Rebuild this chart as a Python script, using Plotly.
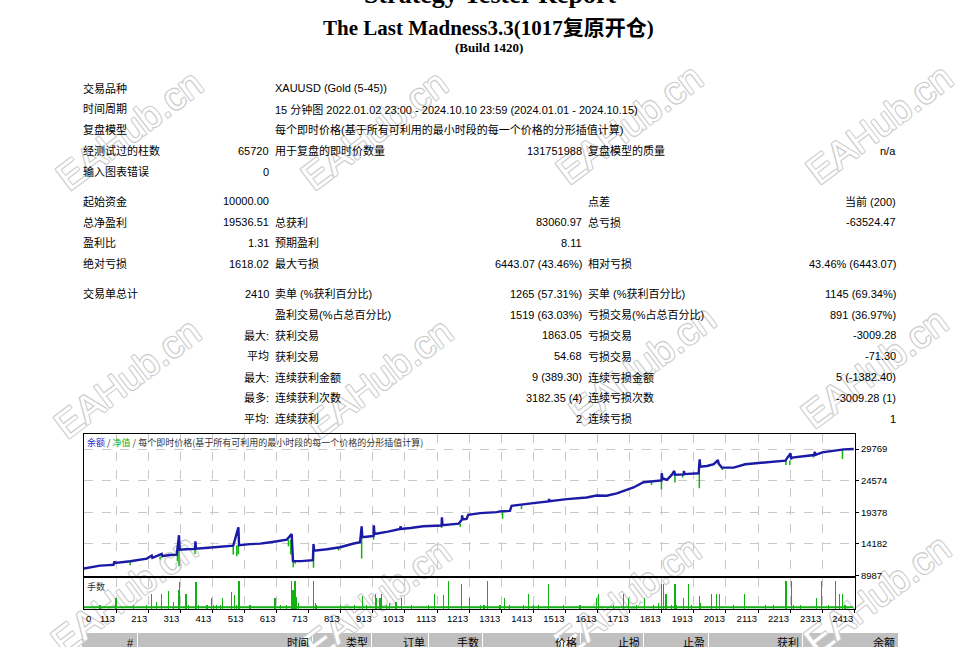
import plotly.graph_objects as go

W, H = 968, 647

TITLE = "Strategy Tester Report"
EA_NAME = "The Last Madness3.3(1017复原开仓)"
BUILD = "(Build 1420)"

col1 = ["交易品种", "时间周期", "复盘模型", "经测试过的柱数", "输入图表错误",
        "起始资金", "总净盈利", "盈利比", "绝对亏损", "交易单总计",
        "", "", "", "", "", ""]
col2 = ["", "", "", "65720", "0",
        "10000.00", "19536.51", "1.31", "1618.02", "2410",
        "", "最大:", "平均", "最大:", "最多:", "平均:"]
col3 = ["XAUUSD (Gold (5-45))",
        "15 分钟图 2022.01.02 23:00 - 2024.10.10 23:59 (2024.01.01 - 2024.10.15)",
        "每个即时价格(基于所有可利用的最小时段的每一个价格的分形插值计算)",
        "用于复盘的即时价数量", "",
        "", "总获利", "预期盈利", "最大亏损", "卖单 (%获利百分比)",
        "盈利交易(%占总百分比)", "获利交易", "获利交易", "连续获利金额", "连续获利次数", "连续获利"]
col4 = ["", "", "", "131751988", "",
        "", "83060.97", "8.11", "6443.07 (43.46%)", "1265 (57.31%)",
        "1519 (63.03%)", "1863.05", "54.68", "9 (389.30)", "3182.35 (4)", "2"]
col5 = ["", "", "", "复盘模型的质量", "",
        "点差", "总亏损", "", "相对亏损", "买单 (%获利百分比)",
        "亏损交易(%占总百分比)", "亏损交易", "亏损交易", "连续亏损金额", "连续亏损次数", "连续亏损"]
col6 = ["", "", "", "n/a", "",
        "当前 (200)", "-63524.47", "", "43.46% (6443.07)", "1145 (69.34%)",
        "891 (36.97%)", "-3009.28", "-71.30", "5 (-1382.40)", "-3009.28 (1)", "1"]

TOTAL_TRADES = 2410

# balance curve (trade number, balance)
bal_idx = [0, 40, 63, 90, 105, 108, 110, 157, 209, 224, 226, 255, 257, 280, 302,
           309, 311, 330, 359, 360, 362, 400, 440, 478, 494, 496, 530, 562, 600,
           645, 660, 664, 690, 717, 726, 728, 730, 770, 811, 850, 873, 878, 880,
           900, 915, 916, 918, 960, 998, 999, 1001, 1030, 1070, 1127, 1128, 1130,
           1143, 1180, 1190, 1191, 1193, 1205, 1210, 1247, 1299, 1309, 1340, 1345,
           1413, 1460, 1462, 1464, 1517, 1579, 1610, 1641, 1673, 1704, 1725, 1756,
           1797, 1812, 1813, 1815, 1829, 1844, 1852, 1854, 1881, 1882, 1884, 1928,
           1931, 1933, 1954, 1975, 1988, 1990, 2000, 2037, 2073, 2141, 2198, 2214,
           2216, 2219, 2287, 2290, 2292, 2313, 2349, 2380, 2411]
bal_val = [10000, 10350, 10620, 10700, 10750, 11300, 11050, 11340, 11770, 12260,
           11900, 12530, 12150, 12350, 12420,
           15600, 13240, 13300, 13355, 14615, 13400, 13550, 13750, 13895, 16900,
           13960, 14150, 14220, 14500,
           14880, 15800, 11350, 11350, 11450, 11500, 14170, 13080, 13300, 13630,
           14200, 14450, 17070, 15270,
           15400, 15500, 17230, 15810, 16200, 16630, 17070, 16650, 16800, 17070,
           17200, 18540, 17250,
           17330, 17500, 18150, 18860, 18200, 18300, 18966, 19245, 19409, 19523,
           19600, 20440,
           20880, 21160, 21540, 21180, 21535, 21810, 22140, 22100, 22470, 23060,
           23450, 24320,
           24530, 24600, 25790, 24970, 24700, 25510, 26170, 25550, 25600, 26170,
           25650, 25790,
           28080, 26880, 26990, 27300, 27960, 27400, 26720, 26720, 27260, 27540,
           27870, 29060,
           28100, 28360, 28780, 29290, 28800, 29220, 29440, 29715, 29764]

# equity drawdowns below the balance line (trade number, balance, equity low)
dip_idx = [157, 250, 304, 309, 359, 478, 489, 494, 650, 657, 665, 671, 728, 806,
           878, 915, 1127, 1185, 1317, 1376, 1418, 1781, 1812, 1854, 1878, 1930,
           2002, 2200, 2212, 2285, 2376]
dip_top = [11340, 12100, 12420, 13240, 13355, 13895, 13940, 13960, 14880, 14880,
           11350, 11350, 13080, 13600, 15270, 15500, 17200, 17500, 19550, 20450,
           20880, 24400, 24600, 25550, 25600, 25790, 26720, 27870, 27900, 28780,
           29700]
dip_low = [10690, 11605, 11343, 10525, 12537, 12423, 12161, 12500, 13796, 12423,
           10361, 10900, 10247, 13077, 11768, 14877, 16791, 16950, 18312, 19900,
           20700, 23870, 23170, 24270, 25100, 23335, 26330, 27150, 27150, 28357,
           28130]

# lot sizes of the larger trades (relative to the panel height)
lot_idx = [63, 110, 115, 167, 209, 224, 240, 255, 276, 292, 309, 311, 331, 338,
           362, 370, 396, 411, 416, 427, 437, 445, 473, 482, 489, 494, 497, 530,
           608, 624, 645, 660, 663, 665, 668, 671, 676, 681, 728, 733, 738, 811,
           857, 881, 894, 920, 925, 935, 940, 956, 966, 985, 1003, 1034, 1086,
           1106, 1132, 1148, 1190, 1215, 1247, 1259, 1271, 1309, 1322, 1338, 1382,
           1398, 1413, 1429, 1460, 1507, 1558, 1610, 1616, 1662, 1693, 1709, 1735,
           1759, 1787, 1802, 1813, 1818, 1826, 1844, 1854, 1859, 1880, 1896, 1906,
           1930, 1934, 1968, 1984, 1992, 2036, 2072, 2135, 2161, 2200, 2218, 2223,
           2244, 2296, 2311, 2332, 2353, 2368, 2377, 2384]
lot_val = [0.14, 0.34, 0.34, 0.14, 0.14, 0.48, 0.24, 0.48, 0.57, 0.24, 0.60, 0.87,
           0.48, 0.14, 0.87, 0.14, 0.14, 0.34, 0.14, 0.14, 0.14, 0.34, 0.55, 0.45,
           0.14, 0.88, 0.88, 0.14,
           0.34, 0.14, 0.14, 0.88, 0.60, 0.60, 0.88, 0.88, 0.40, 0.19, 0.88, 0.19,
           0.14, 0.14,
           0.14, 0.42, 0.14, 0.48, 0.34, 0.34, 0.48, 0.14, 0.19, 0.24, 0.34, 0.14,
           0.14, 0.48, 0.45, 0.88, 0.81, 0.34, 0.14, 0.14, 0.88, 0.14, 0.34, 0.14,
           0.14,
           0.48, 0.14, 0.14, 0.79, 0.14, 0.14, 0.34, 0.48, 0.14, 0.48, 0.34, 0.14,
           0.34, 0.14, 0.19, 0.79, 0.79, 0.48, 0.14, 0.79, 0.14, 0.34, 0.79, 0.14,
           0.42, 0.19, 0.48, 0.48, 0.48, 0.14, 0.48, 0.14, 0.14, 0.88, 0.88, 0.14,
           0.14, 0.34, 0.88, 0.14, 0.88, 0.48, 0.48, 0.14]
BASE_LOT = 0.06

y_ticks = [8987, 14182, 19378, 24574, 29769]
y_tick_text = ["8987", "14182", "19378", "24574", "29769"]
x_ticks = [113, 213, 313, 413, 513, 613, 713, 813, 913, 1013, 1113, 1213, 1313,
           1413, 1513, 1613, 1713, 1813, 1913, 2013, 2113, 2213, 2313, 2413]
x_tick_text = [str(v) for v in x_ticks]

chart_legend = ["余额", "净值", "每个即时价格(基于所有可利用的最小时段的每一个价格的分形插值计算)"]
lots_title = "手数"
deals_header = ["#", "时间", "类型", "订单", "手数", "价格", "止损", "止盈", "获利", "余额"]
WATERMARK = "EAHub.cn"

# ---------------- layout helpers ----------------
def fx(px):
    return px / W


def fy(py):
    return 1 - py / H


BLUE = "#1a1aa6"
GREEN = "#12b012"
GRID = "#c8c8c8"
TXT_FONT = "Liberation Sans, Noto Sans CJK SC"
CJK_FONT = "Noto Sans CJK SC"
SERIF = "Liberation Serif, Noto Sans CJK SC"

ROW_Y = [89, 110, 131, 152, 173, 203, 224, 245, 266, 296, 317, 338, 359, 380, 401, 422]
# annotation boxes carry ~3px padding, so anchors are nudged outward
COLS = [(col1, 81, "left"), (col2, 271, "right"), (col3, 273, "left"),
        (col4, 584, "right"), (col5, 586, "left"), (col6, 898, "right")]
HEADER_CELLS = [(82, 137), (138, 312), (313, 371), (372, 428), (429, 482),
                (483, 580), (581, 643), (644, 708), (709, 802), (803, 898)]
WM_CENTERS = [(127, 128), (372, 128), (627, 122), (877, 122),
              (125, 378), (377, 378), (640, 365), (872, 368),
              (122, 596), (375, 600), (625, 598), (875, 596)]

X_RANGE = [13, 2415]

fig = go.Figure()

# equity dips (green) under the balance line
eq_x, eq_y = [], []
for i, top, low in zip(dip_idx, dip_top, dip_low):
    eq_x += [i, i, None]
    eq_y += [top, low, None]
fig.add_trace(go.Scatter(x=eq_x, y=eq_y, mode="lines",
                         line=dict(color=GREEN, width=1.5),
                         xaxis="x", yaxis="y", hoverinfo="skip"))
fig.add_trace(go.Scatter(x=bal_idx, y=bal_val, mode="lines",
                         line=dict(color=BLUE, width=2.4),
                         xaxis="x", yaxis="y"))

# lots panel
fig.add_trace(go.Scatter(x=[0, TOTAL_TRADES], y=[BASE_LOT, BASE_LOT], mode="lines",
                         line=dict(color=GREEN, width=2),
                         xaxis="x2", yaxis="y2", hoverinfo="skip"))
fig.add_trace(go.Bar(x=lot_idx, y=lot_val, width=3.6,
                     marker=dict(color=GREEN, line=dict(width=0)),
                     xaxis="x2", yaxis="y2"))

axis_common = dict(showline=True, mirror=True, linecolor="black", linewidth=1,
                   zeroline=False, gridcolor=GRID, griddash="dash", gridwidth=1)

fig.update_layout(
    width=W, height=H, autosize=False,
    margin=dict(l=0, r=0, t=0, b=0),
    paper_bgcolor="white", plot_bgcolor="rgba(0,0,0,0)",
    showlegend=False, bargap=0, hovermode=False,
    xaxis=dict(domain=[fx(84), fx(855)], range=X_RANGE, anchor="y",
               tickvals=x_ticks, showticklabels=False, ticks="", **axis_common),
    yaxis=dict(domain=[fy(580), fy(437)], range=[8986, 32300], anchor="x",
               side="right", tickvals=y_ticks, ticktext=y_tick_text,
               ticks="outside", ticklen=3, tickcolor="black",
               tickfont=dict(family="Liberation Sans", size=9.5, color="black"),
               **axis_common),
    xaxis2=dict(domain=[fx(84), fx(855)], range=X_RANGE, anchor="y2",
                tickvals=x_ticks, ticktext=x_tick_text,
                ticks="outside", ticklen=3, tickcolor="black",
                ticklabelposition="outside left",
                tickfont=dict(family="Liberation Sans", size=9.5, color="black"),
                **axis_common),
    yaxis2=dict(domain=[fy(614), fy(582)], range=[0, 1], anchor="x2",
                showticklabels=False, showgrid=False, ticks="",
                showline=True, mirror=True, linecolor="black", linewidth=1,
                zeroline=False),
)

annotations = []

# titles (the first one is cut by the top of the page, as in the report)
annotations.append(dict(text=TITLE, x=fx(490), y=fy(11.4), yanchor="bottom",
                        font=dict(family="Liberation Serif", size=26, color="black",
                                  weight="bold")))
annotations.append(dict(text=EA_NAME, x=fx(488), y=fy(28),
                        font=dict(family=SERIF, size=21, color="black", weight="bold")))
annotations.append(dict(text=BUILD, x=fx(489), y=fy(47.5),
                        font=dict(family=SERIF, size=13, color="black", weight="bold")))

# report table
for texts, xpos, align in COLS:
    for txt, ypos in zip(texts, ROW_Y):
        if not txt:
            continue
        annotations.append(dict(text=txt, x=fx(xpos), y=fy(ypos), xanchor=align,
                                font=dict(family=TXT_FONT, size=11, color="black")))

# chart texts
legend_txt = ('<span style="color:#2a2ac8">%s</span> / '
              '<span style="color:#10b010">%s</span> / %s') % tuple(chart_legend)
annotations.append(dict(text=legend_txt, x=fx(85), y=fy(446), xanchor="left",
                        font=dict(family=CJK_FONT, size=9, color="#333333")))
annotations.append(dict(text=lots_title, x=fx(85), y=fy(591), xanchor="left",
                        font=dict(family=CJK_FONT, size=9, color="#333333")))
annotations.append(dict(text="0", xref="x2", x=X_RANGE[0], y=fy(623), xanchor="left",
                        xshift=0,
                        font=dict(family="Liberation Sans", size=9.5, color="black")))

# deals table header (cut at the bottom of the page)
shapes = []
for (x0, x1), txt in zip(HEADER_CELLS, deals_header):
    shapes.append(dict(type="rect", xref="paper", yref="paper",
                       x0=fx(x0), x1=fx(x1), y0=fy(662), y1=fy(638),
                       fillcolor="#c0c0c0", line=dict(width=0), layer="below"))
    annotations.append(dict(text=txt, x=fx(x1 - 1), y=fy(648), xanchor="right",
                            font=dict(family=TXT_FONT, size=11, color="black")))

for a in annotations:
    a.setdefault("xref", "paper")
    a.setdefault("yref", "paper")
    a.setdefault("yanchor", "middle")
    a["showarrow"] = False

# watermarks: hollow light-grey letters under everything else
wm_shadow = ("1px 1px 0 #cccccc, -1px -1px 0 #cccccc, "
             "1px -1px 0 #cccccc, -1px 1px 0 #cccccc")
for cx, cy in WM_CENTERS:
    shapes.append(dict(type="rect", xref="paper", yref="paper",
                       x0=fx(cx - 1), x1=fx(cx + 1), y0=fy(cy + 1), y1=fy(cy - 1),
                       line=dict(width=0), fillcolor="rgba(0,0,0,0)", layer="below",
                       label=dict(text=WATERMARK, textangle=-37,
                                  textposition="middle center",
                                  font=dict(family="Liberation Sans", size=38,
                                            color="white", shadow=wm_shadow))))

fig.update_layout(annotations=annotations, shapes=shapes)

# the report page has no body margin: the figure starts at the window corner
fig.write_html("out.html", config={"staticPlot": True, "displayModeBar": False},
               post_script="document.body.style.margin = '0px';")
